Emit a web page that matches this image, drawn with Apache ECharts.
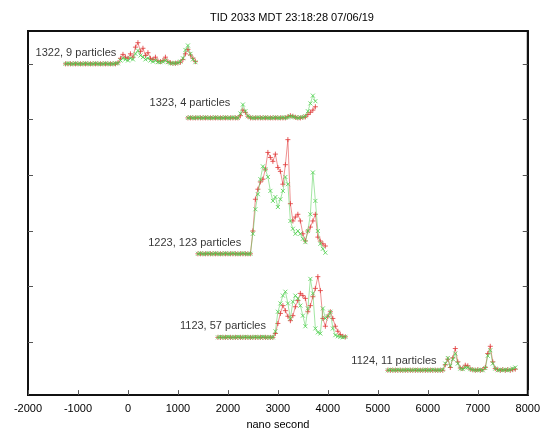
<!DOCTYPE html>
<html>
<head>
<meta charset="utf-8">
<script src="https://cdn.jsdelivr.net/npm/echarts@6/dist/echarts.min.js"></script>
<style>html,body{margin:0;padding:0;background:#fff;}#chart{width:543px;height:435px;}</style>
</head>
<body>
<div id="chart"></div>
<script>
const chartTitle = 'TID 2033 MDT 23:18:28 07/06/19';
const xAxisName = 'nano second';
const xTicks = [-2000, -1000, 0, 1000, 2000, 3000, 4000, 5000, 6000, 7000, 8000];
const yTickValues = [1, 2, 3, 4, 5, 6];

const traceLabels = ['1322, 9 particles', '1323, 4 particles', '1223, 123 particles', '1123, 57 particles', '1124, 11 particles'];
const traceStart = [-1250, 1200, 1400, 1800, 5200];
const sampleStep = 50;
const traceBase = [6.0, 5.03, 2.59, 1.09, 0.5];
const labelX = [-234, 2048, 2266, 2762, 6175];
const labelY = [6.2, 5.29, 2.79, 1.3, 0.66];

const red1322 = [0,0,0,0,0,0,0,0,0,0,0,0,0,0,0,0,0,0,0,0,0,
  0.02,0.1,0.17,0.12,0.1,0.18,0.12,0.3,0.38,0.22,0.28,0.15,0.2,0.1,0.08,0.12,0.05,0.04,0.06,0.12,0.04,0.02,0.01,0.01,0.02,0.03,0.08,0.18,0.26,0.16,0.1,0.04];
const green1322 = [0,0.01,0,0,0.01,0,0,0,0.01,0,0,0,0.01,0,0,0,0.01,0,0,0,0.01,
  0.01,0.06,0.1,0.08,0.06,0.1,0.08,0.18,0.24,0.15,0.12,0.08,0.1,0.06,0.04,0.06,0.03,0.03,0.04,0.06,0.03,0.01,0.01,0.01,0.02,0.04,0.1,0.25,0.33,0.18,0.08,0.03];

const red1323 = [0,0,0,0,0,0,0,0,0,0,0,0,0,0,0,0,0,0,0,0,0,
  0.04,0.14,0.1,0.03,
  0,0,0,0,0,0,0,0,0,0,0,0,0,0,0,
  0.02,0.04,0.03,0.01,
  0,0,0.01,
  0.02,0.06,0.1,0.14,0.2];
const green1323 = [0,0.01,0,0,0.01,0,0,0.01,0,0,0,0.01,0,0,0,0.01,0,0,0.01,0,0,
  0.08,0.24,0.12,0.03,
  0.01,0,0,0.01,0,0,0.01,0,0,0,0.01,0,0,0.01,0,
  0.01,0.03,0.02,0.01,
  0,0.01,0.01,
  0.03,0.12,0.26,0.4,0.3];

const red1223 = [0,0,0,0,0,0,0,0,0,0,0,0,0,0,0,0,0,0,0,0,0,0,
  0.41,0.98,1.16,1.29,1.34,1.52,1.82,1.73,1.66,1.79,
  1.55,1.48,1.25,1.6,2.05,0.9,0.59,0.66,0.71,0.59,
  0.36,0.23,0.41,0.48,0.59,0.71,0.3,0.23,0.18,0.14];
const green1223 = [0,0.01,0,0,0.01,0,0,0.01,0,0,0,0.01,0,0,0.01,0,0,0,0.01,0,0,0,
  0.36,0.8,1.07,1.34,1.57,1.52,1.38,1.13,0.95,1.02,
  0.84,0.98,1.13,1.38,1.25,0.59,0.45,0.36,0.41,0.36,
  0.27,0.21,0.41,0.71,1.46,0.95,0.41,0.18,0.09,0.02];

const red1123 = [0,0,0,0,0,0,0,0,0,0,0,0,0,0,0,0,0,0,0,0,0,0,0,
  0.07,0.25,0.43,0.57,0.48,0.38,0.3,0.39,0.55,0.66,0.79,0.75,0.7,0.46,0.57,0.73,0.88,1.09,0.84,0.34,0.2,0.38,0.46,0.34,0.2,0.11,0.05,0.02,0.01];
const green1123 = [0,0.01,0,0,0.01,0,0,0,0.01,0,0,0.01,0,0,0,0.01,0,0,0.01,0,0,0,0,
  0.11,0.46,0.61,0.75,0.82,0.61,0.34,0.64,0.75,0.7,0.57,0.39,0.2,0.52,1.05,0.79,0.16,0.09,0.07,0.52,0.34,0.38,0.46,0.16,0.04,0.02,0.01,0,0.01];

const red1124 = [0,0,0,0,0,0,0,0,0,0,0,0,0,0,0,0,0,0,0,0,0,0,0,
  0.1,0.2,0.05,0.22,0.39,0.15,0.04,0.03,0.09,0.08,0.02,0.01,0,0.01,0,0.01,0.05,0.3,0.43,0.15,0.03,0.01,0,0.01,0,0.01,0,0.01,0.02];
const green1124 = [0,0.01,0,0,0.01,0,0,0,0.01,0,0,0.01,0,0,0,0.01,0,0,0.01,0,0,0,0.01,
  0.12,0.22,0.08,0.2,0.3,0.12,0.03,0.02,0.05,0.05,0.02,0.01,0,0,0.01,0,0.04,0.26,0.36,0.12,0.03,0,0.01,0,0.01,0,0.01,0.03,0.05];

const redTraces = [red1322, red1323, red1223, red1123, red1124];
const greenTraces = [green1322, green1323, green1223, green1123, green1124];

const RED = '#e03a3a';
const GREEN = '#4fd04f';
const plusPath = 'path://M0,5L10,5M5,0L5,10';
const crossPath = 'path://M0,0L10,10M10,0L0,10';
const FONT = 'Liberation Sans, Arial, sans-serif';

function toPairs(vals, t) {
  return vals.map((v, i) => [traceStart[t] + i * sampleStep, traceBase[t] + v]);
}

const series = [];
for (let t = 0; t < traceLabels.length; t++) {
  series.push({
    type: 'line', data: toPairs(redTraces[t], t), symbol: plusPath, symbolSize: 5,
    showSymbol: true, silent: true, animation: false, z: 2,
    lineStyle: { color: RED, width: 0.7, opacity: 0.8 },
    itemStyle: { color: 'none', borderColor: RED, borderWidth: 0.9, opacity: 0.9 }
  });
}
for (let t = 0; t < traceLabels.length; t++) {
  series.push({
    type: 'line', data: toPairs(greenTraces[t], t), symbol: crossPath, symbolSize: 4,
    showSymbol: true, silent: true, animation: false, z: 3,
    lineStyle: { color: GREEN, width: 0.7, opacity: 0.75 },
    itemStyle: { color: 'none', borderColor: GREEN, borderWidth: 0.9, opacity: 0.9 }
  });
}
series.push({
  type: 'scatter', symbolSize: 0, silent: true, animation: false, z: 5,
  data: traceLabels.map((s, i) => ({ value: [labelX[i], labelY[i]], name: s })),
  label: { show: true, position: 'left', distance: 0, formatter: p => p.name,
    color: '#000', fontSize: 11, fontFamily: FONT }
});

const chart = echarts.init(document.getElementById('chart'), null, { renderer: 'canvas' });
chart.setOption({
  backgroundColor: '#fff',
  animation: false,
  title: { text: chartTitle, left: 287, top: 7, textAlign: 'center',
    textStyle: { fontSize: 11, fontWeight: 'normal', color: '#000', fontFamily: FONT } },
  grid: { left: 28, right: 11, top: 31, bottom: 38, show: true, borderColor: '#111', borderWidth: 2, backgroundColor: 'transparent' },
  xAxis: {
    type: 'value', min: xTicks[0], max: xTicks[xTicks.length - 1], interval: 1000,
    name: xAxisName, nameLocation: 'middle', nameGap: 22,
    nameTextStyle: { fontSize: 11, color: '#000', fontFamily: FONT },
    axisLine: { show: true, onZero: false, lineStyle: { color: '#111', width: 2 } },
    axisTick: { show: true, inside: true, length: 5, lineStyle: { color: '#555', width: 1 } },
    axisLabel: { show: true, margin: 8, fontSize: 11, color: '#000', fontFamily: FONT, formatter: v => String(v) },
    splitLine: { show: false }
  },
  yAxis: [{
    type: 'value', min: 0.054, max: 6.59, position: 'left',
    axisLine: { show: true, onZero: false, lineStyle: { color: '#111', width: 2 } },
    axisTick: { show: true, inside: true, length: 5, customValues: yTickValues, lineStyle: { color: '#555', width: 1 } },
    axisLabel: { show: false, customValues: yTickValues },
    splitLine: { show: false }
  }, {
    type: 'value', min: 0.054, max: 6.59, position: 'right',
    axisLine: { show: true, onZero: false, lineStyle: { color: '#111', width: 2 } },
    axisTick: { show: true, inside: true, length: 5, customValues: yTickValues, lineStyle: { color: '#555', width: 1 } },
    axisLabel: { show: false, customValues: yTickValues },
    splitLine: { show: false }
  }],
  series: series
});
</script>
</body>
</html>
